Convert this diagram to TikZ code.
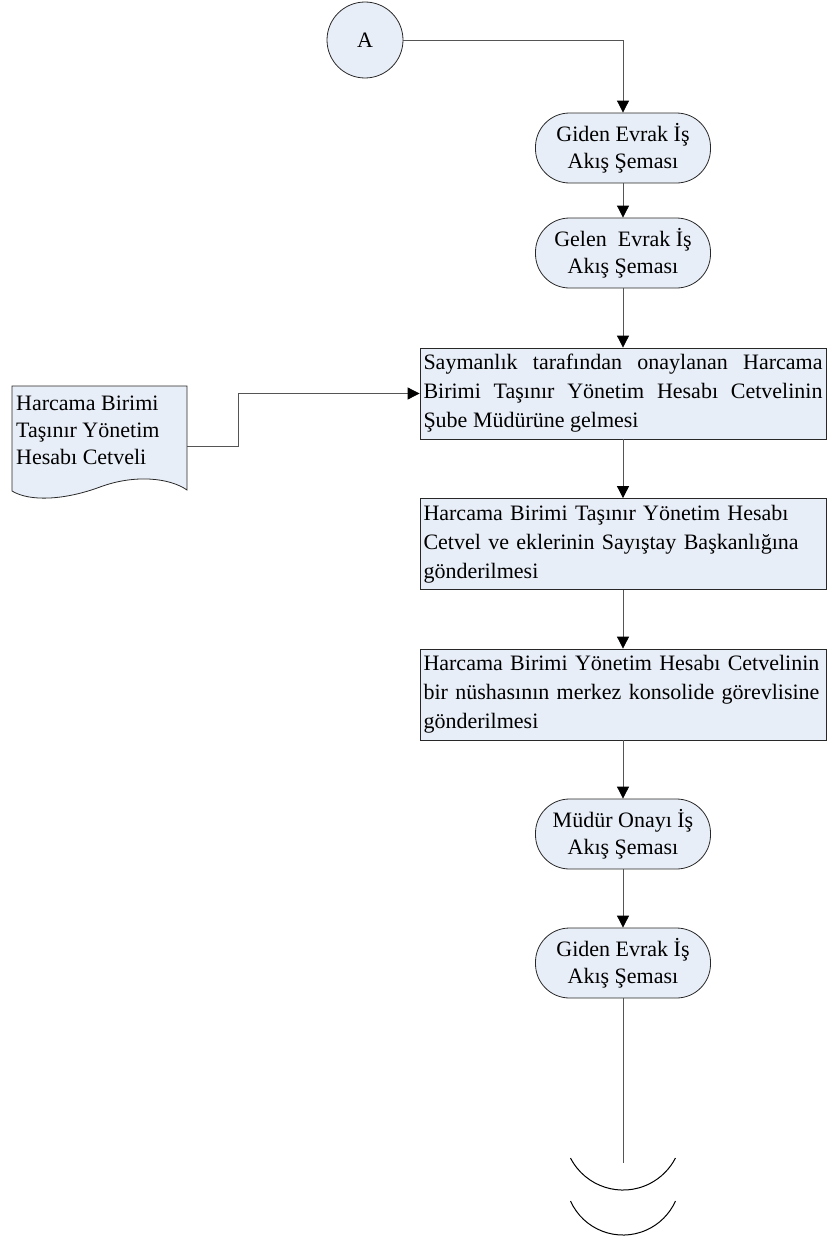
\documentclass[tikz,border=0pt]{standalone}
\usepackage{fontspec}
\setmainfont{Liberation Serif}
\usetikzlibrary{arrows.meta,calc}
\definecolor{fillblue}{RGB}{232,238,247}
\definecolor{linegray}{RGB}{85,85,85}
\definecolor{edgegray}{RGB}{40,40,40}
\begin{document}
\hyphenpenalty=10000\relax
\begin{tikzpicture}[x=1pt,y=-1pt,
  shapebase/.style={draw=edgegray, fill=fillblue, line width=0.8pt},
  termbox/.style={shapebase, rectangle, rounded corners=34pt, minimum width=175pt, minimum height=70pt, align=center, inner sep=0pt, font=\fontsize{22}{27}\selectfont},
  procbox/.style={shapebase, rectangle, minimum width=406pt, minimum height=91pt, text width=399pt, inner xsep=3.5pt, inner ysep=4pt, font=\fontsize{22}{29}\selectfont},
  conn/.style={draw=linegray, line width=0.8pt, -{Triangle[length=12pt,width=12pt,color=black,fill=black]}},
  plainline/.style={draw=linegray, line width=0.8pt},
  arcline/.style={draw=black, line width=1pt}
]
\useasboundingbox (0,0) rectangle (827,1239);

% connector circle
\node[shapebase, circle, minimum size=76pt, inner sep=0pt, font=\fontsize{22}{27}\selectfont] (A) at (365,40) {A};

% terminals
\node[termbox] (t1) at (623,148) {Giden Evrak İş\\Akış Şeması};
\node[termbox] (t2) at (623,253) {Gelen\ \ Evrak İş\\Akış Şeması};

% process boxes
\node[procbox, align=justify] (b1) at (623,393.5) {Saymanlık tarafından onaylanan Harcama\linebreak Birimi Taşınır Yönetim Hesabı Cetvelinin\linebreak Şube Müdürüne gelmesi};
\node[procbox, align=left] (b2) at (623,544) {Harcama Birimi Taşınır Yönetim Hesabı\\Cetvel ve eklerinin Sayıştay Başkanlığına\\gönderilmesi};
\node[procbox, align=left] (b3) at (623,694.5) {Harcama Birimi Yönetim Hesabı Cetvelinin\\bir nüshasının merkez konsolide görevlisine\\gönderilmesi};

\node[termbox] (t3) at (623,834) {Müdür Onayı İş\\Akış Şeması};
\node[termbox] (t4) at (623,963) {Giden Evrak İş\\Akış Şeması};

% document shape
\draw[shapebase] (12,386) -- (187,386) -- (187,490)
  .. controls (170,478) and (135,474) .. (100,487)
  .. controls (65,500) and (30,502) .. (12,491) -- cycle;
\node[align=left, anchor=west, inner sep=0pt, font=\fontsize{22}{27}\selectfont] (doc) at (16,430) {Harcama Birimi\\Taşınır Yönetim\\Hesabı Cetveli};
\coordinate (docR) at (187,446);
\coordinate (docBend) at (238,446);

% connectors
\draw[conn] (A.east) -| (t1.north);
\draw[conn] (t1.south) -- (t2.north);
\draw[conn] (t2.south) -- (b1.north);
\draw[conn] (b1.south) -- (b2.north);
\draw[conn] (b2.south) -- (b3.north);
\draw[conn] (b3.south) -- (t3.north);
\draw[conn] (t3.south) -- (t4.north);
\draw[conn] (docR) -- (docBend) |- (b1.west);

\coordinate (endc) at (623,1163);
\draw[plainline] (t4.south) -- (endc);

% off-page style arcs
\draw[arcline] (570.5,1158) arc[start angle=152.8, end angle=27.2, radius=59];
\draw[arcline] (570.5,1201) arc[start angle=155.9, end angle=24.1, radius=57.5];
\end{tikzpicture}
\end{document}
